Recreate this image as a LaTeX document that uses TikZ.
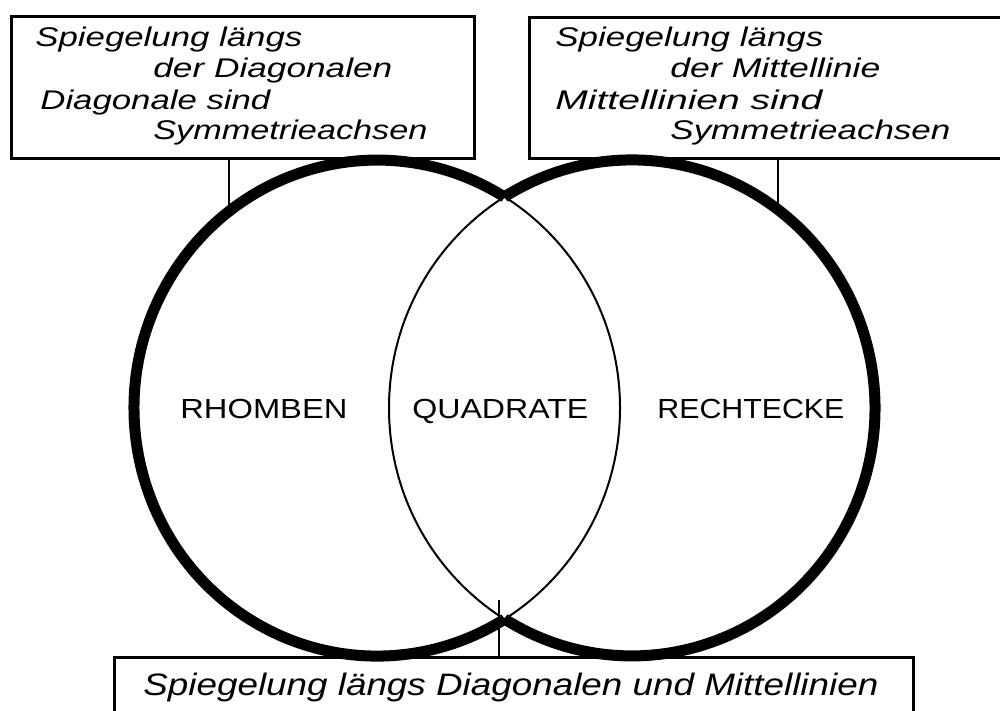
\documentclass[tikz,border=0pt]{standalone}
\usepackage{fontspec}
\setmainfont{Liberation Sans}
\usepackage{graphicx}
\newcommand\fitw[2]{\resizebox{\dimexpr0.5pt*#1\relax}{\height}{#2}}
\tikzset{
  boxframe/.style={draw=black, line width=1.3pt, inner sep=0pt, anchor=north west},
  itxt/.style={inner sep=0pt, anchor=base west, font=\fontsize{13.5pt}{15pt}\selectfont\itshape},
  btxt/.style={inner sep=0pt, anchor=base west, font=\fontsize{15.5pt}{18pt}\selectfont\itshape},
  ctxt/.style={inner sep=0pt, anchor=base west, font=\fontsize{13.8pt}{16pt}\selectfont},
  conn/.style={line width=1.3pt},
  outerarc/.style={line width=5.5pt},
  lensarc/.style={line width=1pt}
}
\begin{document}
\begin{tikzpicture}[x=0.5pt, y=-0.5pt]
\path[use as bounding box, fill=white] (0,0) rectangle (1000,711);
\clip (0,0) rectangle (1000,711);

% boxes
\node[boxframe, minimum width=231.5pt, minimum height=71pt] (lbox) at (10,15) {};
\node[boxframe, minimum width=241pt, minimum height=70.5pt] (rbox) at (528,16) {};
\node[boxframe, minimum width=399.5pt, minimum height=40pt] (bbox) at (113,656) {};

% circles
\coordinate (lc) at (377,408);
\coordinate (rc) at (632,408);
\coordinate (itop) at (504.5,197);
\coordinate (ibot) at (504.5,619);
\draw[lensarc] (lc) ellipse[x radius=121.5pt, y radius=124pt];
\draw[lensarc] (rc) ellipse[x radius=121.5pt, y radius=124pt];
\draw[outerarc] (itop) arc[start angle=58.35, end angle=301.65, x radius=121.5pt, y radius=124pt];
\draw[outerarc] (ibot) arc[start angle=238.35, end angle=481.65, x radius=121.5pt, y radius=124pt];

% connectors
\coordinate (la) at (229,211);
\coordinate (ra) at (778,210);
\coordinate (ba) at (499,600);
\draw[conn] (lbox.south -| la) -- (la);
\draw[conn] (rbox.south -| ra) -- (ra);
\draw[conn] (ba) -- (bbox.north -| ba);

% left box text
\node[itxt] (l1) at (35,47) {\fitw{267}{Spiegelung längs}};
\node[itxt] (l2) at (153,78) {\fitw{239}{der Diagonalen}};
\node[itxt] (l3) at (40,110) {\fitw{230}{Diagonale sind}};
\node[itxt] (l4) at (153,140) {\fitw{274}{Symmetrieachsen}};

% right box text
\node[itxt] (r1) at (555,47) {\fitw{268}{Spiegelung längs}};
\node[itxt] (r2) at (670,78) {\fitw{210}{der Mittellinie}};
\node[itxt] (r3) at (555,110) {\fitw{267}{Mittellinien sind}};
\node[itxt] (r4) at (670,140) {\fitw{280}{Symmetrieachsen}};

% bottom text
\node[btxt] (b1) at (143,695) {\fitw{735}{Spiegelung längs Diagonalen und Mittellinien}};

% labels
\node[ctxt] (rh) at (180,418) {\fitw{167}{RHOMBEN}};
\node[ctxt] (qu) at (412,418) {\fitw{176}{QUADRATE}};
\node[ctxt] (re) at (657,418) {\fitw{187}{RECHTECKE}};
\end{tikzpicture}
\end{document}
